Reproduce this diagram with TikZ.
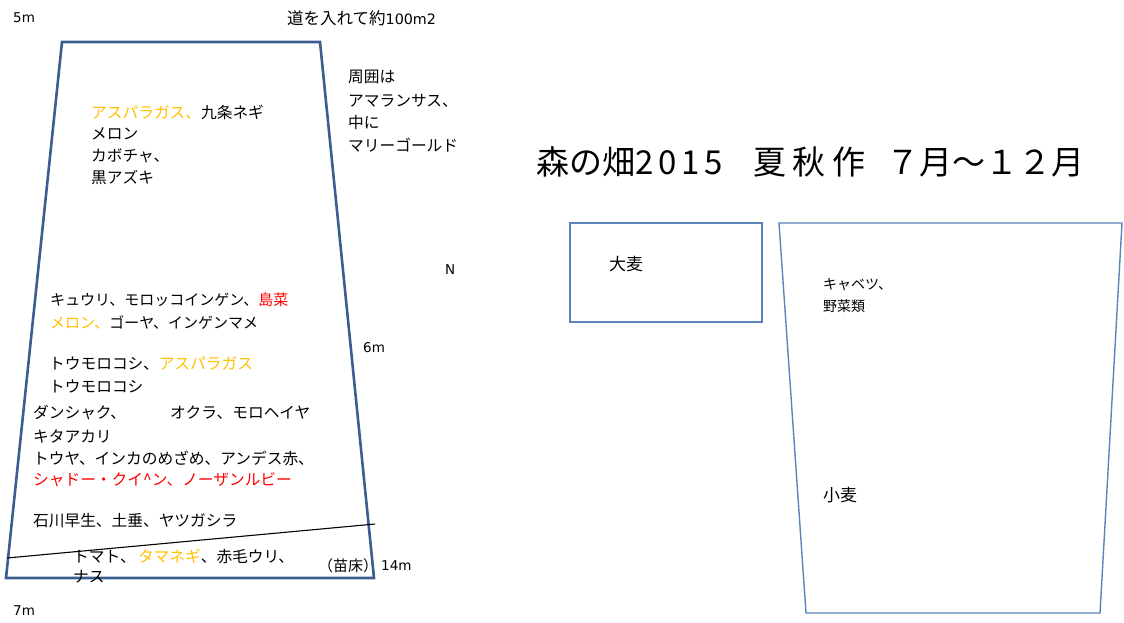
\documentclass[tikz,border=0pt]{standalone}
\usepackage{fontspec}
\setmainfont{Noto Sans CJK JP}
\newfontfamily\latn{DejaVu Sans}
\definecolor{thick}{HTML}{3B5E8E}
\definecolor{thin}{HTML}{5B84BA}
\definecolor{orng}{HTML}{FFC000}
\definecolor{rd}{HTML}{FF0000}
\begin{document}
\begin{tikzpicture}[x=1pt,y=-1pt,
  lbl/.style={anchor=west,inner sep=0pt,font=\fontsize{15.7}{18}\selectfont},
  mid/.style={anchor=west,inner sep=0pt,font=\fontsize{15}{18}\selectfont},
  big/.style={anchor=west,inner sep=0pt,font=\fontsize{17}{20}\selectfont},
  sm/.style={anchor=west,inner sep=0pt,font=\fontsize{14}{16}\selectfont},
  msr/.style={anchor=west,inner sep=0pt,font=\latn\fontsize{13.5}{16}\selectfont},
  fieldA/.style={draw=thick,line width=2.6pt,line join=miter},
  fieldB/.style={draw=thin,line width=1.4pt}]
\useasboundingbox (0,0) rectangle (1124,622);
% left field
\coordinate (tl) at (62,42);
\coordinate (tr) at (320,42);
\coordinate (br) at (374,578);
\coordinate (bl) at (6,578);
\draw[fieldA] (tl) -- (tr) -- (br) -- (bl) -- cycle;
\coordinate (sa) at (7,558);
\coordinate (sb) at (375,524);
\draw[thin,line width=1.1pt] (sa) -- (sb);
% labels outside
\node[msr] (m5) at (13,18) {5m};
\node[anchor=west,inner sep=0pt,font=\fontsize{16.5}{18}\selectfont] (area) at (287,18) {道を入れて約{\latn\fontsize{14.3}{16}\selectfont 100m2}};
\node[lbl] (r1) at (348,77) {周囲は};
\node[lbl] (r2) at (348,101) {アマランサス、};
\node[lbl] (r3) at (348,123) {中に};
\node[lbl] (r4) at (348,145) {マリーゴールド};
\node[msr] (n) at (445,270) {N};
\node[msr] (m6) at (363,348) {6m};
\node[msr] (m7) at (13,611) {7m};
% inside labels
\node[lbl] (a1) at (91,112) {\textcolor{orng}{アスパラガス、}九条ネギ};
\node[lbl] (a2) at (91,134) {メロン};
\node[lbl] (a3) at (91,156) {カボチャ、};
\node[lbl] (a4) at (91,177) {黒アズキ};
\node[mid] (b1) at (50,300) {キュウリ、モロッコインゲン、\textcolor{rd}{島菜}};
\node[mid] (b2) at (50,323) {\textcolor{orng}{メロン、}ゴーヤ、インゲンマメ};
\node[lbl] (c1) at (49,363) {トウモロコシ、\textcolor{orng}{アスパラガス}};
\node[lbl] (c2) at (49,386) {トウモロコシ};
\node[lbl] (d1) at (33,413) {ダンシャク、};
\node[lbl] (d1b) at (170,413) {オクラ、モロヘイヤ};
\node[lbl] (d2) at (33,436) {キタアカリ};
\node[lbl] (d3) at (33,458) {トウヤ、インカのめざめ、アンデス赤、};
\node[lbl,text=rd] (d4) at (33,480) {シャドー・クイ\^{}ン、ノーザンルビー};
\node[lbl] (e1) at (33,521) {石川早生、土垂、ヤツガシラ};
\node[lbl] (f1) at (73,556) {トマト、\hspace{0.15em}\textcolor{orng}{タマネギ}、赤毛ウリ、};
\node[lbl] (f2) at (73,577) {ナス};
\node[mid] (nb) at (318,566) {（苗床）};
\node[msr] (m14) at (381,566) {14m};
% right side
\node[anchor=west,inner sep=0pt,font=\fontsize{33}{38}\selectfont] (title) at (536,162)
  {森の畑{\addfontfeature{LetterSpace=14}2015}\hspace{0.94em}夏\hspace{0.2em}秋\hspace{0.2em}作\hspace{0.64em}７月～１２月};
\coordinate (q1) at (570,223);
\coordinate (q2) at (762,322);
\draw[fieldB] (q1) rectangle (q2);
\node[big] (omugi) at (609,264) {大麦};
\coordinate (p1) at (779,223);
\coordinate (p2) at (1122,223);
\coordinate (p3) at (1100,613);
\coordinate (p4) at (806,613);
\draw[fieldB] (p1) -- (p2) -- (p3) -- (p4) -- cycle;
\node[sm] (kb1) at (823,285) {キャベツ、};
\node[sm] (kb2) at (823,306) {野菜類};
\node[big] (komugi) at (823,495) {小麦};
\end{tikzpicture}
\end{document}
